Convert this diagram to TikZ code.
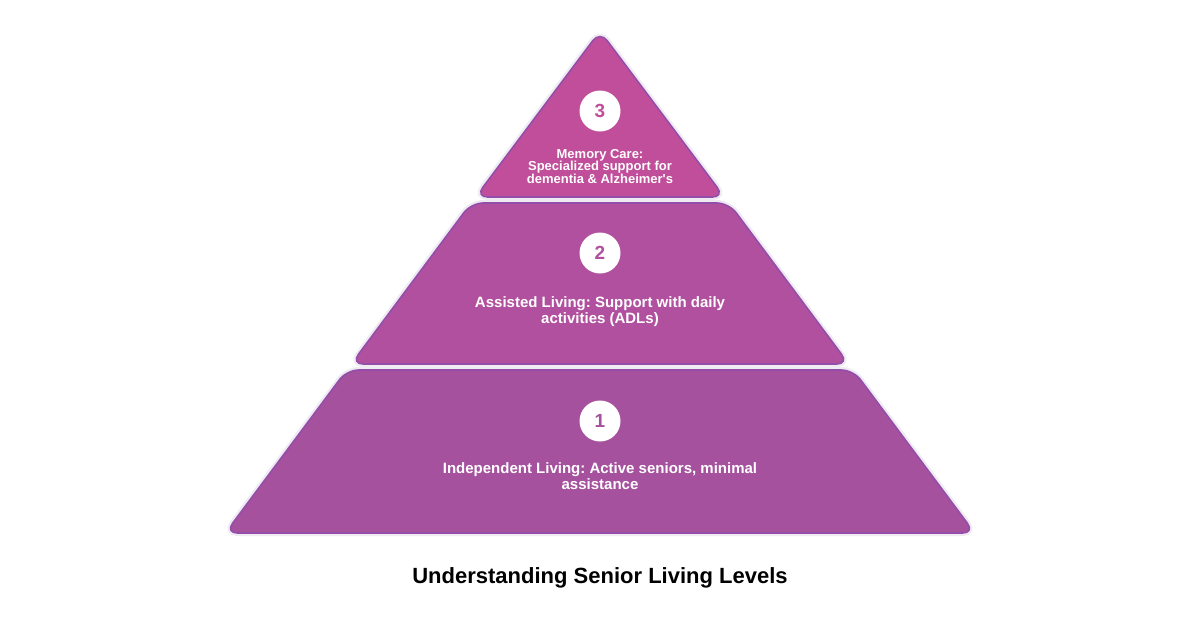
\documentclass[tikz,border=0pt]{standalone}
\usepackage{fontspec}
\setmainfont{Liberation Sans}
\usetikzlibrary{positioning,calc}
\definecolor{tierOne}{HTML}{A5519E}
\definecolor{tierTwo}{HTML}{B0509F}
\definecolor{tierThree}{HTML}{C04E9A}
\definecolor{tierBorder}{HTML}{944EAA}
\definecolor{tierGlow}{HTML}{EEEBF3}
\frenchspacing

\begin{document}
\begin{tikzpicture}[x=1pt,y=-1pt]
	%defines
	\tikzstyle{tier} = [draw=tierBorder, line width=1.6pt, rounded corners=12pt, preaction={draw=tierGlow, line width=6pt}]
	\tikzstyle{badge} = [circle, fill=white, minimum size=41pt, inner sep=0pt, font=\fontsize{19}{19}\selectfont\bfseries]
	\tikzstyle{tierText} = [text=white, align=center, inner sep=0pt, font=\fontsize{15}{16}\selectfont\bfseries]
	%chart
	\useasboundingbox[fill=white] (0,0) rectangle (1200,630);
	\draw[tier, fill=tierOne] (346.7,370) -- (853.3,370) -- (974.7,533) -- (225.3,533) -- cycle;
	\draw[tier, fill=tierTwo] (471.1,203) -- (728.9,203) -- (848.8,364) -- (351.2,364) -- cycle;
	\draw[tier, fill=tierThree] (600,31) -- (724.4,197) -- (475.6,197) -- cycle;
	\node (badgeThree) [badge, text=tierThree] at (600,111) {3};
	\node (badgeTwo) [badge, text=tierTwo] at (600,253) {2};
	\node (badgeOne) [badge, text=tierOne] at (600,421) {1};
	\node (memoryCare) [tierText, font=\fontsize{13}{12.5}\selectfont\bfseries] at (600,166.5) {Memory Care:\\Specialized support for\\dementia \& Alzheimer\textquotesingle s};
	\node (assistedLiving) [tierText] at (600,312) {Assisted Living: Support with daily\\activities (ADLs)};
	\node (independentLiving) [tierText] at (600,476.5) {Independent Living: Active seniors, minimal\\assistance};
	\node (title) [font=\fontsize{22}{24}\selectfont\bfseries] at (600,578) {Understanding Senior Living Levels};
\end{tikzpicture}
\end{document}
